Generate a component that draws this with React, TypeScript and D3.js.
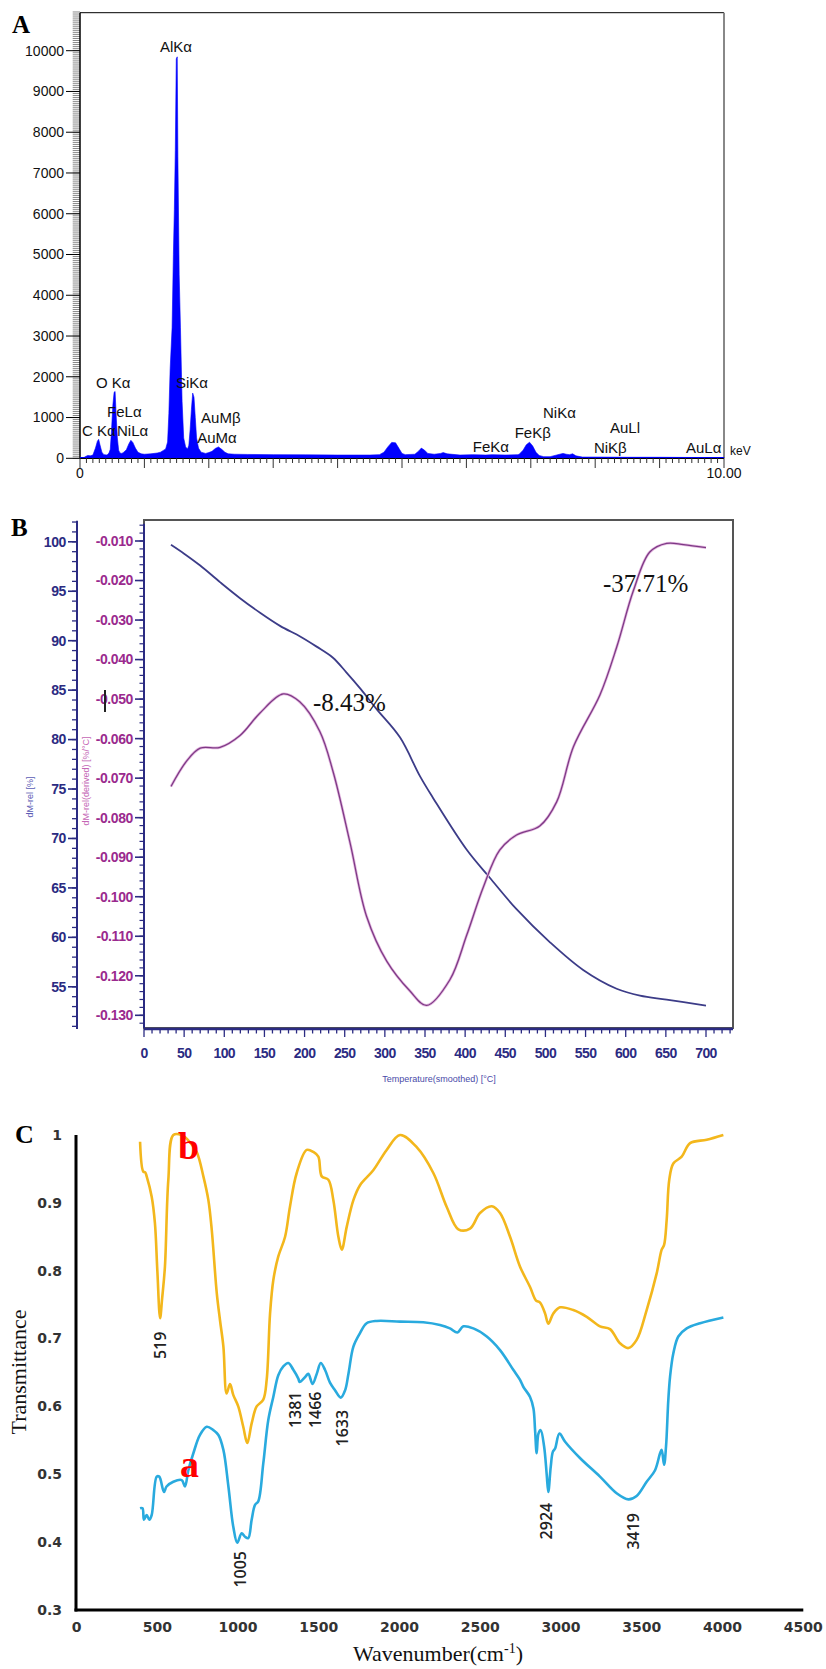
import React from 'react';
import * as d3 from 'd3';

// ---------- Panel A : EDS spectrum ----------
const edsEnergy = [0.05, 0.08, 0.12, 0.16, 0.2, 0.24, 0.27, 0.29, 0.31, 0.34, 0.37, 0.42, 0.45, 0.47, 0.49, 0.51, 0.53, 0.545, 0.56, 0.58, 0.6, 0.62, 0.65, 0.68, 0.72, 0.76, 0.79, 0.82, 0.86, 0.9, 0.95, 1.0, 1.1, 1.2, 1.25, 1.3, 1.33, 1.36, 1.38, 1.4, 1.43, 1.45, 1.465, 1.48, 1.495, 1.51, 1.52, 1.54, 1.56, 1.585, 1.61, 1.64, 1.67, 1.69, 1.71, 1.73, 1.75, 1.77, 1.79, 1.81, 1.84, 1.88, 1.95, 2.0, 2.05, 2.1, 2.15, 2.2, 2.25, 2.3, 2.4, 2.6, 3.0, 3.5, 4.0, 4.5, 4.65, 4.72, 4.78, 4.84, 4.9, 4.95, 5.0, 5.05, 5.2, 5.26, 5.3, 5.35, 5.4, 5.5, 5.6, 5.64, 5.7, 5.9, 6.1, 6.3, 6.4, 6.6, 6.8, 6.82, 6.88, 6.93, 6.98, 7.03, 7.08, 7.13, 7.2, 7.3, 7.45, 7.5, 7.55, 7.6, 7.65, 7.7, 7.8, 8.0, 8.5, 9.0, 9.5, 10.0];
const edsCounts = [0, 40, 70, 60, 80, 250, 420, 465, 330, 150, 90, 80, 130, 220, 700, 1300, 1620, 1640, 1100, 500, 200, 130, 120, 150, 210, 360, 440, 390, 250, 150, 110, 100, 110, 130, 150, 200, 230, 400, 1100, 2200, 3200, 5000, 6100, 7550, 9800, 9850, 7400, 4500, 3200, 1400, 500, 280, 230, 320, 700, 1200, 1600, 1500, 1000, 500, 250, 150, 120, 140, 170, 240, 280, 220, 150, 110, 100, 95, 90, 85, 80, 80, 90, 150, 280, 390, 380, 250, 120, 90, 100, 180, 250, 200, 120, 100, 120, 140, 110, 80, 90, 80, 90, 80, 90, 100, 200, 330, 395, 300, 150, 70, 40, 40, 100, 120, 100, 90, 110, 60, 30, 30, 25, 25, 20, 20];
const edsYTicks = [0, 1000, 2000, 3000, 4000, 5000, 6000, 7000, 8000, 9000, 10000];
const edsLabelText = ['AlKα', 'O Kα', 'FeLα', 'C Kα', 'NiLα', 'SiKα', 'AuMβ', 'AuMα', 'FeKα', 'FeKβ', 'NiKα', 'AuLl', 'NiKβ', 'AuLα'];
const edsLabelKeV = [1.49, 0.248, 0.42, 0.03, 0.575, 1.49, 1.88, 1.82, 6.1, 6.75, 7.19, 8.23, 7.98, 9.41];
const edsLabelCount = [9960, 1726, 1014, 548, 548, 1726, 867, 376, 155, 498, 990, 621, 130, 130];
const edsLabelAnchor = ['middle', 'start', 'start', 'start', 'start', 'start', 'start', 'start', 'start', 'start', 'start', 'start', 'start', 'start'];

// ---------- Panel B : TGA / DTG ----------
const tgTemp = [33.6, 50, 70, 95, 119.6, 145, 169.4, 195, 215, 235, 252, 270, 290, 319, 343.7, 360, 402, 431, 464, 505.7, 547, 588.7, 617.8, 651, 700];
const tgMass = [99.7, 98.8, 97.6, 95.9, 94.3, 92.8, 91.5, 90.4, 89.4, 88.3, 86.8, 85.1, 83.05, 80.2, 76.3, 74.1, 68.85, 66.0, 62.85, 59.5, 56.7, 54.8, 54.1, 53.7, 53.1];
const dtgTemp = [33.6, 53, 70, 94.7, 119.6, 144.5, 173.5, 194, 219, 235.7, 256.6, 277.3, 302.3, 331, 352, 381, 402, 422.6, 443, 464, 493, 514, 535, 568, 589, 609.5, 630, 651, 672, 700];
const dtgValue = [-0.0721, -0.0657, -0.0624, -0.0622, -0.0592, -0.0535, -0.0487, -0.0507, -0.0582, -0.0685, -0.0863, -0.105, -0.1163, -0.1238, -0.1275, -0.121, -0.1097, -0.0976, -0.0882, -0.0844, -0.0821, -0.076, -0.062, -0.0489, -0.0367, -0.0226, -0.0128, -0.0106, -0.0109, -0.0117];
const tempTicks = [0, 50, 100, 150, 200, 250, 300, 350, 400, 450, 500, 550, 600, 650, 700];
const massTicks = [55, 60, 65, 70, 75, 80, 85, 90, 95, 100];
const dtgTicks = [-0.13, -0.12, -0.11, -0.1, -0.09, -0.08, -0.07, -0.06, -0.05, -0.04, -0.03, -0.02, -0.01];
const tgaNoteText = ['-8.43%', '-37.71%'];
const tgaNoteTemp = [210.5, 571.7];
const tgaNoteMass = [82.9, 94.9];

// ---------- Panel C : FTIR ----------
const ftirBWave = [393, 413, 425, 434, 465, 485, 500, 517, 530, 547, 568, 599, 650, 700, 744, 785, 816, 837, 868, 888, 909, 929, 950, 970, 1001, 1032, 1057, 1084, 1115, 1156, 1177, 1198, 1218, 1249, 1291, 1321, 1363, 1425, 1466, 1497, 1518, 1559, 1590, 1621, 1642, 1673, 1714, 1755, 1837, 1920, 2003, 2106, 2209, 2292, 2364, 2436, 2498, 2571, 2622, 2684, 2746, 2808, 2845, 2870, 2901, 2921, 2952, 2994, 3076, 3159, 3241, 3303, 3365, 3417, 3468, 3530, 3592, 3623, 3638, 3654, 3670, 3695, 3747, 3799, 3902, 4005];
const ftirBTrans = [0.99, 0.946, 0.945, 0.939, 0.909, 0.87, 0.8, 0.73, 0.76, 0.806, 0.934, 1.0, 1.0, 0.99, 0.975, 0.939, 0.904, 0.86, 0.767, 0.727, 0.688, 0.619, 0.633, 0.617, 0.6, 0.57, 0.546, 0.575, 0.6, 0.61, 0.639, 0.737, 0.786, 0.821, 0.85, 0.894, 0.944, 0.978, 0.975, 0.968, 0.939, 0.934, 0.904, 0.85, 0.831, 0.865, 0.904, 0.926, 0.948, 0.978, 1.0, 0.982, 0.944, 0.894, 0.861, 0.862, 0.885, 0.895, 0.885, 0.85, 0.806, 0.776, 0.756, 0.753, 0.737, 0.722, 0.737, 0.746, 0.742, 0.732, 0.718, 0.714, 0.693, 0.686, 0.698, 0.742, 0.796, 0.831, 0.838, 0.875, 0.934, 0.958, 0.968, 0.988, 0.993, 1.0];
const ftirAWave = [393, 408, 417, 434, 450, 465, 496, 512, 541, 557, 599, 651, 671, 692, 723, 764, 806, 847, 878, 909, 940, 970, 995, 1022, 1043, 1063, 1084, 1105, 1125, 1156, 1187, 1218, 1249, 1280, 1311, 1342, 1373, 1381, 1414, 1435, 1461, 1487, 1512, 1538, 1569, 1600, 1636, 1663, 1684, 1714, 1755, 1796, 1858, 2003, 2147, 2250, 2312, 2358, 2395, 2457, 2540, 2622, 2704, 2746, 2766, 2808, 2829, 2839, 2849, 2860, 2874, 2895, 2911, 2921, 2936, 2949, 2963, 2990, 3025, 3117, 3241, 3344, 3417, 3468, 3530, 3582, 3613, 3623, 3638, 3650, 3664, 3675, 3695, 3726, 3778, 3861, 4005];
const ftirATrans = [0.45, 0.45, 0.433, 0.44, 0.433, 0.44, 0.4965, 0.4965, 0.474, 0.482, 0.489, 0.4915, 0.482, 0.506, 0.531, 0.558, 0.57, 0.565, 0.558, 0.536, 0.482, 0.423, 0.399, 0.413, 0.408, 0.406, 0.433, 0.455, 0.46, 0.516, 0.58, 0.614, 0.646, 0.659, 0.664, 0.654, 0.641, 0.636, 0.643, 0.648, 0.633, 0.648, 0.664, 0.654, 0.635, 0.624, 0.613, 0.624, 0.649, 0.688, 0.708, 0.7225, 0.726, 0.725, 0.724, 0.72, 0.715, 0.709, 0.718, 0.715, 0.703, 0.683, 0.654, 0.639, 0.629, 0.614, 0.597, 0.565, 0.531, 0.56, 0.565, 0.541, 0.5, 0.474, 0.511, 0.533, 0.538, 0.56, 0.548, 0.524, 0.4965, 0.472, 0.463, 0.468, 0.489, 0.506, 0.531, 0.536, 0.514, 0.541, 0.609, 0.644, 0.678, 0.703, 0.715, 0.7225, 0.731];
const waveTicks = [0, 500, 1000, 1500, 2000, 2500, 3000, 3500, 4000, 4500];
const transTicks = [0.3, 0.4, 0.5, 0.6, 0.7, 0.8, 0.9, 1];
const ftirPeakText = ['519', '1005', '1381', '1466', '1633', '2924', '3419'];
const ftirPeakWave = [516, 1016, 1352, 1476, 1648, 2911, 3447];
const ftirPeakTrans = [0.69, 0.36, 0.595, 0.595, 0.568, 0.431, 0.416];
const seriesNames = ['b', 'a'];
const seriesNameWave = [628, 640];
const seriesNameTrans = [0.964, 0.496];

const SANS = 'Liberation Sans, Arial, sans-serif';
const SERIF = 'Liberation Serif, Times New Roman, serif';

export default function App() {
  // Panel A scales
  const xA = d3.scaleLinear().domain([0, 10]).range([80, 724]);
  const yA = d3.scaleLinear().domain([0, 10000]).range([458.3, 50.7]);
  const areaA = d3.area<number>()
    .x((_, i) => xA(edsEnergy[i]))
    .y0(yA(0))
    .y1((d) => yA(d));
  const aMinorY = d3.range(0, 10951, 50);
  const aMinorX = d3.range(0, 101, 1).map((v) => v / 10);

  // Panel B scales
  const xB = d3.scaleLinear().domain([0, 700]).range([144, 706]);
  const yTG = d3.scaleLinear().domain([55, 100]).range([986.8, 541.8]);
  const yDTG = d3.scaleLinear().domain([-0.13, -0.01]).range([1015.3, 541]);
  const lineTG = d3.line<number>().x((_, i) => xB(tgTemp[i])).y((d) => yTG(d)).curve(d3.curveCatmullRom.alpha(0.5));
  const lineDTG = d3.line<number>().x((_, i) => xB(dtgTemp[i])).y((d) => yDTG(d)).curve(d3.curveCatmullRom.alpha(0.5));
  const bMinorX = d3.range(0, 731, 10);
  const bMinorMass = d3.range(51, 103, 1);
  const bMinorDtg = d3.range(-132, -5, 2).map((v) => v / 1000);
  const navy = '#2b2b82';
  const magenta = '#9a2a8e';

  // Panel C scales
  const xC = d3.scaleLinear().domain([0, 4500]).range([76.6, 803.3]);
  const yC = d3.scaleLinear().domain([0.3, 1]).range([1610, 1135]);
  const lineB = d3.line<number>().x((_, i) => xC(ftirBWave[i])).y((d) => yC(d)).curve(d3.curveCatmullRom.alpha(0.5));
  const lineA = d3.line<number>().x((_, i) => xC(ftirAWave[i])).y((d) => yC(d)).curve(d3.curveCatmullRom.alpha(0.5));

  return (
    <svg width={826} height={1669} style={{ position: 'absolute', left: 0, top: 0, background: '#fff' }}>
      <rect x={0} y={0} width={826} height={1669} fill="#fff" />
      {/* ================= A ================= */}
      <text x={12} y={33} fontFamily={SERIF} fontWeight="bold" fontSize={25}>A</text>
      <line x1={80} x2={724} y1={12.7} y2={12.7} stroke="#000" strokeWidth={1} />
      <line x1={724} x2={724} y1={12.7} y2={458.3} stroke="#888" strokeWidth={2} />
      {aMinorY.map((v) => (
        <line key={'am' + v} x1={72.7} x2={80} y1={yA(v)} y2={yA(v)} stroke="#6a6a6a" strokeWidth={0.8} />
      ))}
      {edsYTicks.map((v) => (
        <g key={'ay' + v}>
          <line x1={66} x2={80} y1={yA(v)} y2={yA(v)} stroke="#000" strokeWidth={1} />
          <text x={64} y={yA(v)} dy="0.35em" textAnchor="end" fontFamily={SANS} fontSize={14} fill="#111">{v}</text>
        </g>
      ))}
      <path d={areaA(edsCounts) || ''} fill="#0000ff" stroke="#0000ff" strokeWidth={0.6} />
      <line x1={80} x2={80} y1={12.7} y2={458.3} stroke="#000" strokeWidth={1.5} />
      <line x1={80} x2={724} y1={458.3} y2={458.3} stroke="#000" strokeWidth={1.2} />
      <line x1={80} x2={724} y1={457.5} y2={457.5} stroke="#0000ff" strokeWidth={1} />
      {aMinorX.map((v, i) => (
        <line key={'ax' + i} x1={xA(v)} x2={xA(v)} y1={458.3} y2={i % 10 === 0 ? 468 : 463} stroke="#333" strokeWidth={1} />
      ))}
      <text x={xA(0)} y={478} textAnchor="middle" fontFamily={SANS} fontSize={14} fill="#111">0</text>
      <text x={xA(10)} y={478} textAnchor="middle" fontFamily={SANS} fontSize={14} fill="#111">10.00</text>
      <text x={730} y={455} fontFamily={SANS} fontSize={12} fill="#111">keV</text>
      {edsLabelText.map((t, i) => (
        <text key={'al' + i} x={xA(edsLabelKeV[i])} y={yA(edsLabelCount[i])} textAnchor={edsLabelAnchor[i] as any}
          fontFamily={SANS} fontSize={15} fill="#111">{t}</text>
      ))}

      {/* ================= B ================= */}
      <text x={11} y={535.5} fontFamily={SERIF} fontWeight="bold" fontSize={25}>B</text>
      <rect x={144} y={520} width={589} height={508} fill="none" stroke="#555" strokeWidth={2} />
      {/* left axis dM-rel */}
      <line x1={77} x2={77} y1={520.7} y2={1029} stroke={navy} strokeWidth={2} />
      {bMinorMass.map((v) => (
        <line key={'bm' + v} x1={72} x2={77} y1={yTG(v)} y2={yTG(v)} stroke={navy} strokeWidth={1.3} />
      ))}
      {massTicks.map((v) => (
        <g key={'bt' + v}>
          <line x1={68} x2={77} y1={yTG(v)} y2={yTG(v)} stroke={navy} strokeWidth={1.6} />
          <text x={66} y={yTG(v)} dy="0.35em" textAnchor="end" fontFamily={SANS} fontWeight="bold" fontSize={14} letterSpacing={-0.4} fill={navy}>{v}</text>
        </g>
      ))}
      <text transform="translate(30,797) rotate(-90)" textAnchor="middle" dy="0.35em" fontFamily={SANS} fontSize={9} fill="#5b5bb5">dM-rel [%]</text>
      {/* derived axis */}
      <line x1={144} x2={144} y1={523.7} y2={1028} stroke={navy} strokeWidth={2} />
      {bMinorDtg.map((v, i) => (
        <line key={'bd' + i} x1={139.5} x2={144} y1={yDTG(v)} y2={yDTG(v)} stroke={navy} strokeWidth={1.2} />
      ))}
      {dtgTicks.map((v) => (
        <g key={'dt' + v}>
          <line x1={135} x2={144} y1={yDTG(v)} y2={yDTG(v)} stroke={navy} strokeWidth={1.6} />
          <text x={133} y={yDTG(v)} dy="0.35em" textAnchor="end" fontFamily={SANS} fontWeight="bold" fontSize={14} letterSpacing={-0.4} fill={magenta}>{d3.format('.3f')(v).replace('−', '-')}</text>
        </g>
      ))}
      <line x1={105} x2={105} y1={690} y2={712} stroke="#222" strokeWidth={2} />
      <text transform="translate(86,781) rotate(-90)" textAnchor="middle" dy="0.35em" fontFamily={SANS} fontSize={9} fill="#c465b5">dM-rel(derived) [%/°C]</text>
      {/* bottom axis */}
      <line x1={144} x2={733} y1={1029} y2={1029} stroke={navy} strokeWidth={2.5} />
      {bMinorX.map((v) => (
        <line key={'bx' + v} x1={xB(v)} x2={xB(v)} y1={1029} y2={v % 50 === 0 ? 1037 : 1033.5} stroke={navy} strokeWidth={1.3} />
      ))}
      {tempTicks.map((v) => (
        <text key={'tx' + v} x={xB(v)} y={1058} textAnchor="middle" fontFamily={SANS} fontWeight="bold" fontSize={14} letterSpacing={-0.6} fill={navy}>{v}</text>
      ))}
      <text x={439} y={1082} textAnchor="middle" fontFamily={SANS} fontSize={9} fill="#4a4aa8">Temperature(smoothed) [°C]</text>
      {/* curves */}
      <path d={lineTG(tgMass) || ''} fill="none" stroke="#3c3c88" strokeWidth={1.8} />
      <path d={lineDTG(dtgValue) || ''} fill="none" stroke="#e4b8e0" strokeWidth={2.8} />
      <path d={lineDTG(dtgValue) || ''} fill="none" stroke="#7e3a86" strokeWidth={1.3} />
      {tgaNoteText.map((t, i) => (
        <text key={'tn' + i} x={xB(tgaNoteTemp[i])} y={yTG(tgaNoteMass[i])} fontFamily={SERIF} fontSize={25} fill="#111">{t}</text>
      ))}

      {/* ================= C ================= */}
      <text x={15} y={1143.3} fontFamily={SERIF} fontWeight="bold" fontSize={26}>C</text>
      <path d={lineB(ftirBTrans) || ''} fill="none" stroke="#f3b71c" strokeWidth={2.6} strokeLinejoin="round" />
      <path d={lineA(ftirATrans) || ''} fill="none" stroke="#29aade" strokeWidth={2.6} strokeLinejoin="round" />
      <line x1={76} x2={76} y1={1135} y2={1611.5} stroke="#000" strokeWidth={3} />
      <line x1={74.5} x2={803.3} y1={1610} y2={1610} stroke="#000" strokeWidth={3} />
      {transTicks.map((v) => (
        <text key={'ct' + v} x={62} y={yC(v)} dy="0.35em" textAnchor="end" fontFamily="DejaVu Sans, sans-serif" fontWeight="bold" fontSize={14} fill="#333">{v}</text>
      ))}
      {waveTicks.map((v) => (
        <text key={'cw' + v} x={xC(v)} y={1627.3} dy="0.35em" textAnchor="middle" fontFamily="DejaVu Sans, sans-serif" fontWeight="bold" fontSize={14} fill="#333">{v}</text>
      ))}
      <text transform="translate(18,1372) rotate(-90)" textAnchor="middle" dy="0.35em" fontFamily={SERIF} fontSize={22} fill="#111">Transmittance</text>
      <text x={438} y={1661} textAnchor="middle" fontFamily={SERIF} fontSize={22} fill="#111">
        Wavenumber(cm<tspan dy={-8} fontSize={14}>-1</tspan><tspan dy={8}>)</tspan>
      </text>
      {ftirPeakText.map((t, i) => (
        <text key={'cp' + i} transform={`translate(${xC(ftirPeakWave[i])},${yC(ftirPeakTrans[i])}) rotate(-90)`}
          textAnchor="middle" dy="0.35em" fontFamily="Open Sans, sans-serif" fontWeight={600} fontSize={16} fill="#222">{t}</text>
      ))}
      {seriesNames.map((t, i) => (
        <text key={'sn' + i} x={xC(seriesNameWave[i])} y={yC(seriesNameTrans[i])} fontFamily={SERIF} fontWeight="bold" fontSize={38} fill="#ff0000">{t}</text>
      ))}
    </svg>
  );
}
